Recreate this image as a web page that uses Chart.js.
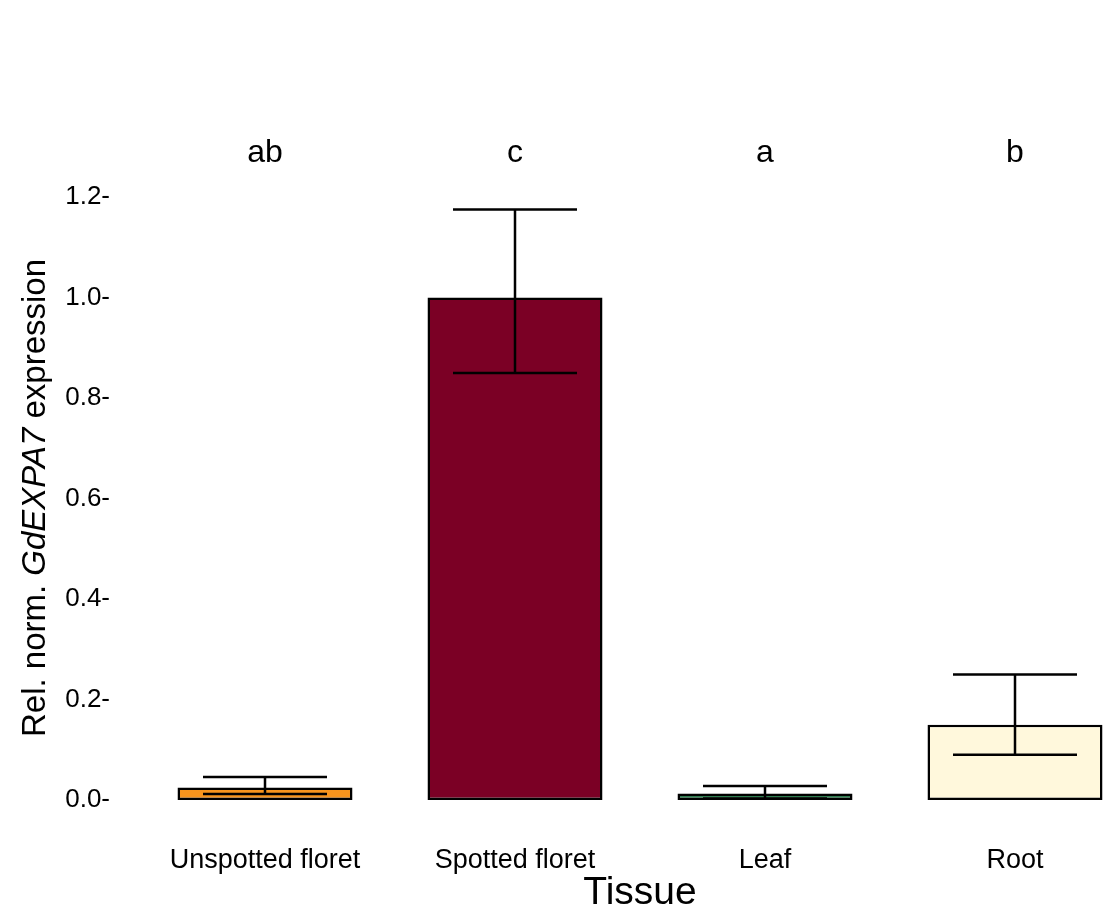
<!DOCTYPE html>
<html>
<head>
<meta charset="utf-8">
<script src="https://cdn.jsdelivr.net/npm/chart.js@4"></script>
<style>
  body { margin: 0; overflow: hidden; background: #fff; }
  #wrap { width: 1140px; height: 917px; }
</style>
</head>
<body>
<div id="wrap"><canvas id="chart" width="1140" height="917"></canvas></div>
<script>
const tissues = ["Unspotted floret", "Spotted floret", "Leaf", "Root"];
const expression = [0.025, 1.0, 0.013, 0.15];
const errLow = [0.012, 0.85, 0.003, 0.09];
const errHigh = [0.046, 1.175, 0.028, 0.25];
const letters = ["ab", "c", "a", "b"];
const barColors = ["#F7941D", "#7B0025", "#2E7D4F", "#FFF8DC"];

const FONT = "Liberation Sans, Arial, sans-serif";

// error bars, significance letters and the mixed-style y title
const extras = {
  id: "extras",
  afterDatasetsDraw: (chart) => {
    const { ctx, scales: { x, y } } = chart;
    ctx.save();
    ctx.strokeStyle = "#000";
    ctx.lineWidth = 2.5;
    tissues.forEach((t, i) => {
      const cx = x.getPixelForValue(i);
      const top = y.getPixelForValue(errHigh[i]);
      const bot = y.getPixelForValue(errLow[i]);
      ctx.beginPath();
      ctx.moveTo(cx, top); ctx.lineTo(cx, bot);
      ctx.moveTo(cx - 62, top); ctx.lineTo(cx + 62, top);
      ctx.moveTo(cx - 62, bot); ctx.lineTo(cx + 62, bot);
      ctx.stroke();
    });
    ctx.fillStyle = "#000";
    ctx.font = "32px " + FONT;
    ctx.textAlign = "center";
    ctx.textBaseline = "middle";
    letters.forEach((l, i) => ctx.fillText(l, x.getPixelForValue(i), 153));

    // y title: "Rel. norm. GdEXPA7 expression" with italic gene name
    ctx.translate(36, 498);
    ctx.rotate(-Math.PI / 2);
    const parts = [
      ["Rel. norm. ", "33px " + FONT],
      ["GdEXPA7", "italic 33px " + FONT],
      [" expression", "33px " + FONT],
    ];
    let total = 0;
    parts.forEach(([s, f]) => { ctx.font = f; total += ctx.measureText(s).width; });
    let pos = -total / 2;
    ctx.textAlign = "left";
    parts.forEach(([s, f]) => {
      ctx.font = f;
      ctx.fillText(s, pos, 0);
      pos += ctx.measureText(s).width;
    });
    ctx.restore();
  },
};

new Chart(document.getElementById("chart"), {
  type: "bar",
  data: {
    labels: tissues,
    datasets: [{
      data: expression,
      backgroundColor: barColors,
      borderColor: "#000",
      borderWidth: 2.5,
      borderSkipped: false,
      barPercentage: 0.7,
      categoryPercentage: 1,
    }],
  },
  options: {
    responsive: false,
    animation: false,
    layout: { padding: { top: 197, right: 0, left: 0, bottom: 0 } },
    plugins: { legend: { display: false }, tooltip: { enabled: false } },
    scales: {
      x: {
        afterFit: (s) => { s.height = 117; },
        grid: { display: false },
        border: { display: false },
        ticks: { color: "#000", font: { size: 27, family: FONT }, padding: 36 },
        title: {
          display: true, text: "Tissue", color: "#000",
          font: { size: 39, family: FONT }, padding: { top: 0, bottom: 0 },
        },
      },
      y: {
        min: 0, max: 1.2,
        afterFit: (s) => { s.width = 140; },
        border: { display: false },
        grid: { display: false },
        ticks: {
          stepSize: 0.2, color: "#000", padding: 22,
          font: { size: 26, family: FONT },
          callback: (v) => v.toFixed(1) + "-",
        },
      },
    },
  },
  plugins: [extras],
});
</script>
</body>
</html>
